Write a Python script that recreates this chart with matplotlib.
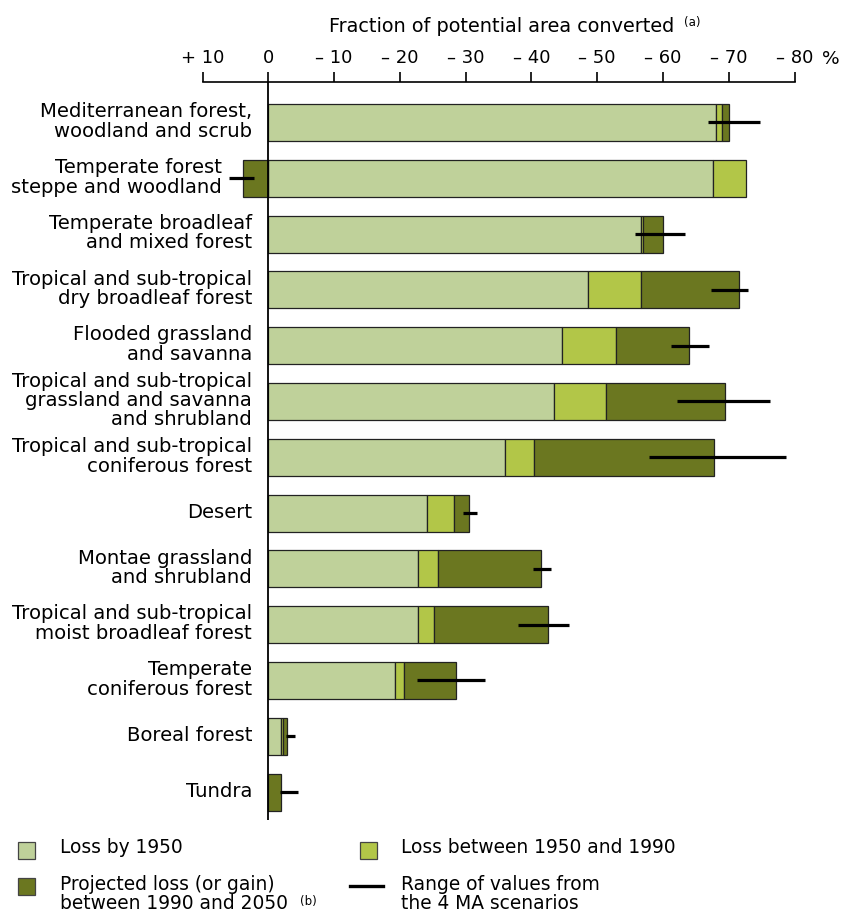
import matplotlib
matplotlib.use("Agg")
import matplotlib.pyplot as plt
from matplotlib.patches import Rectangle
from matplotlib.lines import Line2D
import numpy as np

categories = [
    "Mediterranean forest,\nwoodland and scrub",
    "Temperate forest\nsteppe and woodland",
    "Temperate broadleaf\nand mixed forest",
    "Tropical and sub-tropical\ndry broadleaf forest",
    "Flooded grassland\nand savanna",
    "Tropical and sub-tropical\ngrassland and savanna\nand shrubland",
    "Tropical and sub-tropical\nconiferous forest",
    "Desert",
    "Montae grassland\nand shrubland",
    "Tropical and sub-tropical\nmoist broadleaf forest",
    "Temperate\nconiferous forest",
    "Boreal forest",
    "Tundra",
]
loss_by_1950 = [68.0, 67.6, 56.7, 48.6, 44.6, 43.4, 36.0, 24.1, 22.7, 22.7, 19.3, 2.0, 0.0]
loss_1950_1990 = [1.0, 5.1, 0.3, 8.1, 8.3, 8.0, 4.4, 4.2, 3.1, 2.5, 1.3, 0.3, 0.0]
projected_1990_2050 = [1.1, -3.9, 3.0, 14.8, 11.1, 18.0, 27.4, 2.2, 15.7, 17.4, 8.0, 0.6, 2.0]
range_low = [66.9, -5.9, 55.8, 67.3, 61.2, 62.2, 57.9, 29.6, 40.3, 38.0, 22.6, 2.7, 1.8]
range_high = [74.7, -2.1, 63.3, 72.9, 67.0, 76.2, 78.7, 31.7, 43.0, 45.7, 32.9, 4.0, 4.5]
tick_values = [-10, 0, 10, 20, 30, 40, 50, 60, 70, 80]
tick_labels = ["+ 10", "0", "\u2013 10", "\u2013 20", "\u2013 30", "\u2013 40",
               "\u2013 50", "\u2013 60", "\u2013 70", "\u2013 80"]

C1 = "#bfd19a"
C2 = "#b2c648"
C3 = "#6b7720"
FONT = "DejaVu Sans"

W, H = 847, 913
fig = plt.figure(figsize=(W / 100, H / 100), dpi=100)
ax = fig.add_axes([202.5 / W, 1 - 820 / H, (794.5 - 202.5) / W, (820 - 82.3) / H])

y = np.arange(len(categories))
a = np.array(loss_by_1950)
b = np.array(loss_1950_1990)
c = np.array(projected_1990_2050)
bh = 0.665
ax.barh(y, a, height=bh, color=C1, edgecolor="#222222", linewidth=0.9)
ax.barh(y, b, left=a, height=bh, color=C2, edgecolor="#222222", linewidth=0.9)
left_c = np.where(c < 0, 0, a + b)
ax.barh(y, c, left=left_c, height=bh, color=C3, edgecolor="#222222", linewidth=0.9)
ax.hlines(y, range_low, range_high, color="black", linewidth=2.3, zorder=5)

ax.set_xlim(-10, 80)
ax.set_ylim(12.5, -0.72)
ax.axvline(0, color="black", linewidth=1.3, zorder=6)

for s in ["left", "right", "bottom"]:
    ax.spines[s].set_visible(False)
ax.spines["top"].set_linewidth(1.2)
ax.xaxis.tick_top()
ax.set_xticks(tick_values)
ax.set_xticklabels(tick_labels, fontsize=13, family=FONT)
ax.tick_params(axis="x", direction="out", length=7, width=1.2, pad=4)
ax.set_yticks([])

fig.text(822 / W, 1 - 64.3 / H, "%", fontsize=13.3, family=FONT,
         va="baseline", ha="left")

for i, lab in enumerate(categories):
    xr = 252 if c[i] >= 0 else 222
    fig.text(xr / W, 1 - (121.5 + 55.8 * i) / H, lab, ha="right", va="center",
             multialignment="right", fontsize=14.1, family=FONT,
             linespacing=1.03)

fig.text(329 / W, 1 - 31.5 / H, "Fraction of potential area converted",
         ha="left", va="baseline", fontsize=13.85, family=FONT)
fig.text(684 / W, 1 - 26 / H, "(a)", ha="left", va="baseline", fontsize=8.5,
         family=FONT)

lf = dict(fontsize=13.4, family=FONT, va="baseline", ha="left")

def sq(x0, y0, col):
    fig.add_artist(Rectangle((x0 / W, 1 - (y0 + 16.5) / H), 17 / W, 16.5 / H,
                             transform=fig.transFigure, facecolor=col,
                             edgecolor="#444444", linewidth=0.9))

sq(17.5, 842, C1)
fig.text(59.5 / W, 1 - 853.3 / H, "Loss by 1950", **lf)
sq(359.5, 842, C2)
fig.text(401 / W, 1 - 853.3 / H, "Loss between 1950 and 1990", **lf)
sq(17.5, 878, C3)
fig.text(59.5 / W, 1 - 889.5 / H, "Projected loss (or gain)", **lf)
fig.text(59.5 / W, 1 - 909.3 / H, "between 1990 and 2050", **lf)
fig.text(300 / W, 1 - 904.5 / H, "(b)", fontsize=8.5, family=FONT,
         va="baseline", ha="left")
fig.add_artist(Line2D([350 / W, 383 / W], [1 - 885.7 / H, 1 - 885.7 / H],
                      transform=fig.transFigure, color="black", linewidth=2.4))
fig.text(401 / W, 1 - 889.5 / H, "Range of values from", **lf)
fig.text(401 / W, 1 - 909.3 / H, "the 4 MA scenarios", **lf)

fig.savefig("out.png", dpi=100)
